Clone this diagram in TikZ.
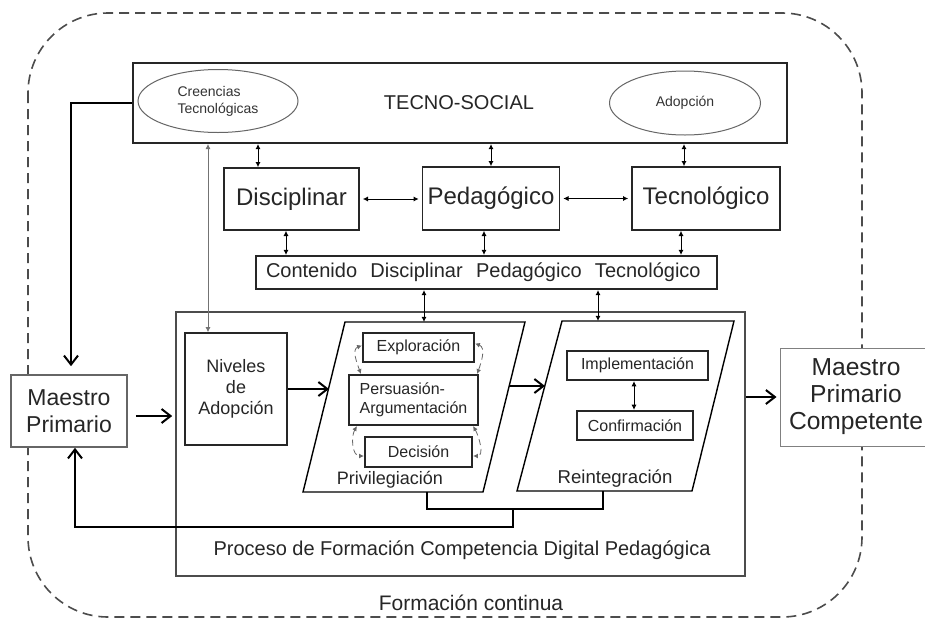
\documentclass[tikz,border=0pt]{standalone}
\usepackage{fontspec}
\setmainfont{Liberation Sans}
\usepackage{tikz}
\usetikzlibrary{arrows.meta,shapes.geometric}

\begin{document}
\begin{tikzpicture}[x=0.5pt,y=-0.5pt]
        \tikzstyle{box} = [draw=black!85, line width=0.8pt, fill=white, inner sep=2pt, text=black!85, align=center];
        \tikzstyle{bigtext} = [font=\fontsize{12}{14}\selectfont];
        \tikzstyle{midtext} = [font=\fontsize{10}{12}\selectfont, text=black!85];
        \tikzstyle{smalltext} = [font=\fontsize{8}{9.5}\selectfont];
        \tikzstyle{stage} = [box, smalltext, line width=1.1pt];
        \tikzstyle{bubble} = [ellipse, draw=black!60, line width=0.5pt, font=\fontsize{7}{8.5}\selectfont, text=black!80, align=left, inner sep=0pt];
        \tikzstyle{pgram} = [draw=black, line width=0.7pt];
        \tikzstyle{dbl} = [black, line width=0.5pt, {Latex[length=2.6pt,width=2.6pt]}-{Latex[length=2.6pt,width=2.6pt]}];
        \tikzstyle{thinlink} = [black!55, line width=0.4pt, {Latex[length=2.6pt,width=2.6pt]}-{Latex[length=2.6pt,width=2.6pt]}];
        \tikzstyle{loop} = [black!60, line width=0.4pt, densely dashed, {Latex[length=2.4pt,width=2.4pt]}-{Latex[length=2.4pt,width=2.4pt]}];
        \tikzstyle{flow} = [black, line width=1pt, -{Straight Barb[length=4.5pt,width=7pt,line width=1pt]}];
        \useasboundingbox (0,0) rectangle (925,627);
        \fill[white] (0,0) rectangle (925,627);

        % formacion continua
        \draw[black!70, line width=0.8pt, dash pattern=on 5pt off 3pt, rounded corners=40pt] (28,13) rectangle (862,617);
        \node[midtext, font=\fontsize{10.5}{12}\selectfont] (formacion) at (471,603) {Formación continua};

        % tecno-social
        \node[box, line width=1pt, minimum width=327pt, minimum height=40pt] (tecno) at (460,103) {};
        \node[midtext] (tecnolabel) at (459,103) {TECNO-SOCIAL};
        \node[bubble, minimum width=80pt, minimum height=31.5pt] (creencias) at (218,101) {Creencias\\Tecnológicas};
        \node[bubble, minimum width=75.5pt, minimum height=32pt] (adopcion) at (685,103) {Adopción};

        % dominios
        \node[box, bigtext, minimum width=67.5pt, minimum height=31pt] (disc) at (291.5,199) {Disciplinar};
        \node[box, bigtext, minimum width=68.5pt, minimum height=31.5pt] (ped) at (491,198.5) {Pedagógico};
        \node[box, bigtext, minimum width=74pt, minimum height=31.5pt] (tec) at (706,198.5) {Tecnológico};
        \node[box, midtext, line width=1pt, minimum width=230.5pt, minimum height=16.5pt, text width=220.5pt, inner xsep=5pt, align=left] (cont) at (486.5,272.5) {Contenido\ \ Disciplinar\ \ Pedagógico\ \ Tecnológico};

        \draw[dbl] ([xshift=-16.75pt]disc.north) -- ([xshift=-16.75pt]disc.north |- tecno.south);
        \draw[dbl] (ped.north) -- (ped.north |- tecno.south);
        \draw[dbl] ([xshift=-11pt]tec.north) -- ([xshift=-11pt]tec.north |- tecno.south);
        \draw[dbl] ([xshift=1.5pt]disc.east) -- ([xshift=-1.5pt]ped.west |- disc.east);
        \draw[dbl] ([xshift=1.5pt]ped.east) -- ([xshift=-1.5pt]tec.west |- ped.east);
        \draw[dbl] ([xshift=-2.75pt]disc.south) -- ([xshift=-2.75pt]disc.south |- cont.north);
        \draw[dbl] ([xshift=-3.5pt]ped.south) -- ([xshift=-3.5pt]ped.south |- cont.north);
        \draw[dbl] ([xshift=-12.5pt]tec.south) -- ([xshift=-12.5pt]tec.south |- cont.north);

        % proceso de formacion
        \node[box, draw=black!70, minimum width=284.5pt, minimum height=132pt] (proceso) at (460.5,444) {};
        \node[midtext] (procesolabel) at (462,550) {Proceso de Formación Competencia Digital Pedagógica};
        \node[box, font=\fontsize{9}{10.5}\selectfont, minimum width=51pt, minimum height=56pt] (niveles) at (236,389) {Niveles\\de\\Adopción};
        \draw[thinlink] ([xshift=-14pt]niveles.north) -- ([xshift=-14pt]niveles.north |- tecno.south);

        % privilegiacion
        \draw[pgram] (345,322) -- (525,322) -- (483,492) -- (303,492) -- cycle;
        \node[font=\fontsize{9}{11}\selectfont, text=black!85] (privlabel) at (390,480) {Privilegiación};
        \node[stage, minimum width=55.5pt, minimum height=14.5pt] (explor) at (418.5,347.5) {Exploración};
        \node[stage, minimum width=64.5pt, minimum height=25pt, align=left] (persu) at (413.5,400) {Persuasión-\\Argumentación};
        \node[stage, minimum width=53.5pt, minimum height=15pt] (decis) at (418.5,452) {Decisión};
        \draw[loop] ([yshift=1pt]explor.west) to[out=200, in=110] ([xshift=6.5pt]persu.north west);
        \draw[loop] ([yshift=2pt]explor.east) to[out=-20, in=70] ([xshift=-1pt]persu.north east);
        \draw[loop] ([xshift=4.5pt]persu.south west) to[out=240, in=180] ([yshift=-2pt]decis.west);
        \draw[loop] ([xshift=-3pt]persu.south east) to[out=-60, in=0] ([yshift=-2pt]decis.east);

        % reintegracion
        \draw[pgram] (562,321) -- (734,321) -- (692,491) -- (517,491) -- cycle;
        \node[font=\fontsize{9.3}{11}\selectfont, text=black!85] (reintlabel) at (615,479) {Reintegración};
        \node[stage, minimum width=70.5pt, minimum height=14.5pt] (implem) at (637.5,365.5) {Implementación};
        \node[stage, minimum width=58pt, minimum height=14.5pt] (confirm) at (635,425.5) {Confirmación};
        \draw[dbl] (implem.south -| 634,0) -- (confirm.north -| 634,0);

        \coordinate (privT) at (424,322);
        \coordinate (reintT) at (598,321);
        \coordinate (privL) at (329,389);
        \coordinate (privR) at (509,386);
        \coordinate (reintL) at (545,386);
        \coordinate (privB) at (427,492);
        \coordinate (reintB) at (603,491);
        \coordinate (fbJ) at (513,509);
        \draw[dbl] (privT) -- (privT |- cont.south);
        \draw[dbl] (reintT) -- (reintT |- cont.south);
        \draw[flow] (niveles.east) -- (privL);
        \draw[flow] (privR) -- (reintL);

        % maestros
        \node[box, draw=black!60, font=\fontsize{11.5}{13.5}\selectfont, minimum width=58pt, minimum height=36pt] (maestro) at (69,411) {Maestro\\Primario};
        \node[box, draw=black!50, line width=0.5pt, font=\fontsize{12.3}{13.5}\selectfont, minimum width=76pt, minimum height=49pt] (competente) at (856,397) {Maestro\\Primario\\Competente};

        \draw[flow] (tecno.west) -| ([yshift=4pt, xshift=1pt]maestro.north);
        \draw[flow] ([xshift=4pt, yshift=-2.5pt]maestro.east) -- ([xshift=-1.5pt, yshift=-2.5pt]maestro.east -| proceso.west);
        \draw[flow] (competente.west -| proceso.east) -- ([xshift=-1.5pt]competente.west);
        \draw[black, line width=1pt] (privB) |- (reintB |- fbJ) -- (reintB);
        \draw[flow] (fbJ) -- ++(0,18) -| ([xshift=3pt]maestro.south);
    \end{tikzpicture}
\end{document}
